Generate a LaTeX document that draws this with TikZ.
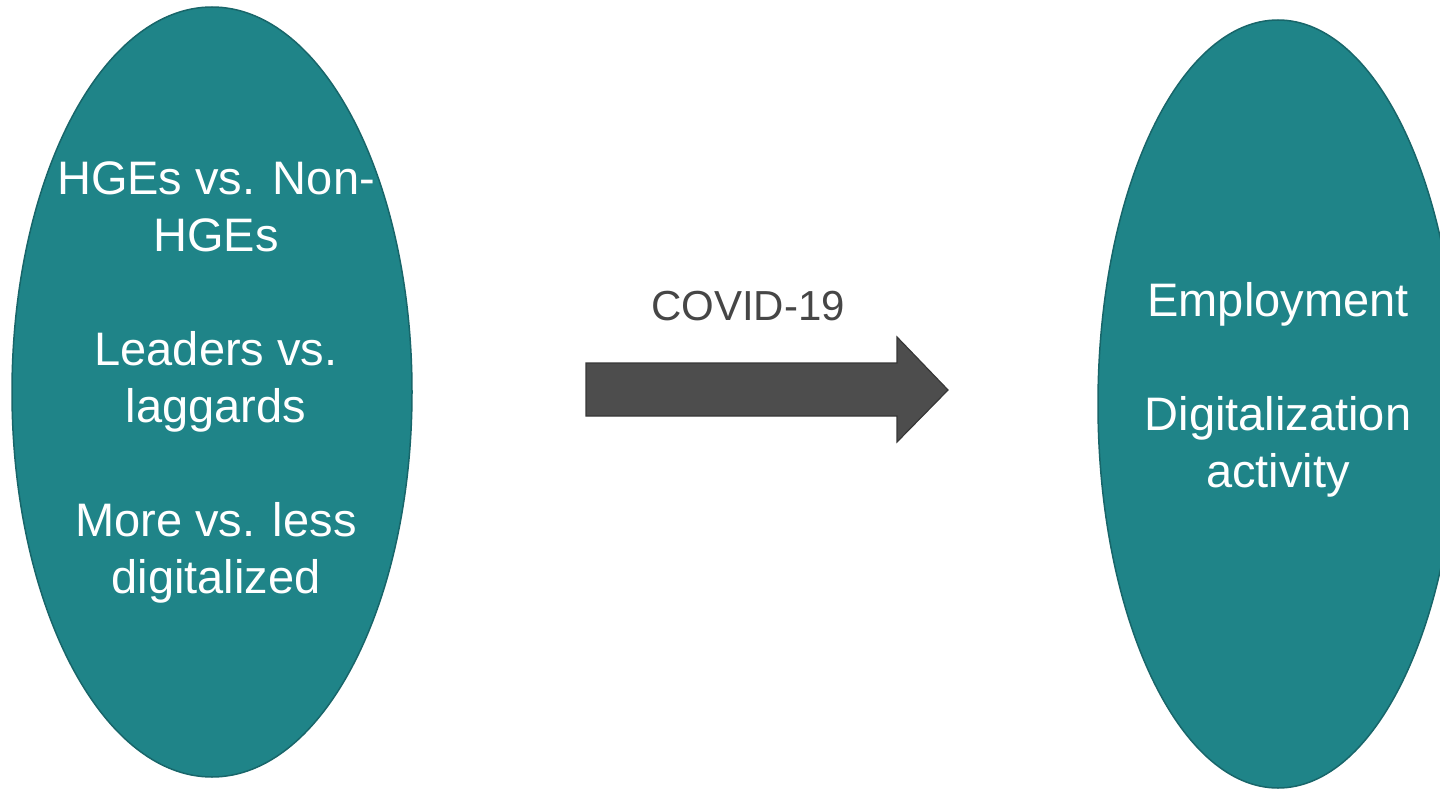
\documentclass[tikz,border=0pt]{standalone}
\usepackage{fontspec}
\setmainfont{Liberation Sans}
\usetikzlibrary{shapes.geometric}
\definecolor{tealfill}{RGB}{31,132,136}
\definecolor{tealline}{RGB}{24,102,106}
\definecolor{arrowfill}{RGB}{77,77,77}
\definecolor{arrowline}{RGB}{55,55,55}
\definecolor{labelgray}{RGB}{70,70,70}
\tikzset{
  oval/.style={ellipse, draw=tealline, fill=tealfill, line width=1.5pt, inner sep=0pt},
  ovaltext/.style={text=white, align=center, font=\fontsize{47}{57}\selectfont, inner sep=0pt},
  blockarrow/.style={draw=arrowline, fill=arrowfill, line width=1.2pt, line join=miter},
  arrowlabel/.style={text=labelgray, font=\fontsize{42}{50}\selectfont, inner sep=0pt}
}
\begin{document}
\begin{tikzpicture}[x=1pt, y=-1pt]
\useasboundingbox (0,0) rectangle (1440,789);
\clip (0,0) rectangle (1440,789);
\node[oval, minimum width=400pt, minimum height=770pt] (left) at (212,392) {};
\node[oval, minimum width=360pt, minimum height=768pt] (right) at (1278,404) {};
\node[ovaltext] (lefttext) at (216,382) {HGEs vs. Non-\\HGEs\\[57pt]Leaders vs.\\laggards\\[57pt]More vs. less\\digitalized};
\node[ovaltext] (righttext) at (1278,390) {Employment\\[57pt]Digitalization\\activity};
\coordinate (a1) at (586,363);
\coordinate (a2) at (897,363);
\coordinate (a3) at (897,337);
\coordinate (tip) at (948,390);
\coordinate (a5) at (897,442);
\coordinate (a6) at (897,416);
\coordinate (a7) at (586,416);
\draw[blockarrow] (a1) -- (a2) -- (a3) -- (tip) -- (a5) -- (a6) -- (a7) -- cycle;
\node[arrowlabel, anchor=base] (covid) at (748,320) {COVID-19};
\end{tikzpicture}
\end{document}
